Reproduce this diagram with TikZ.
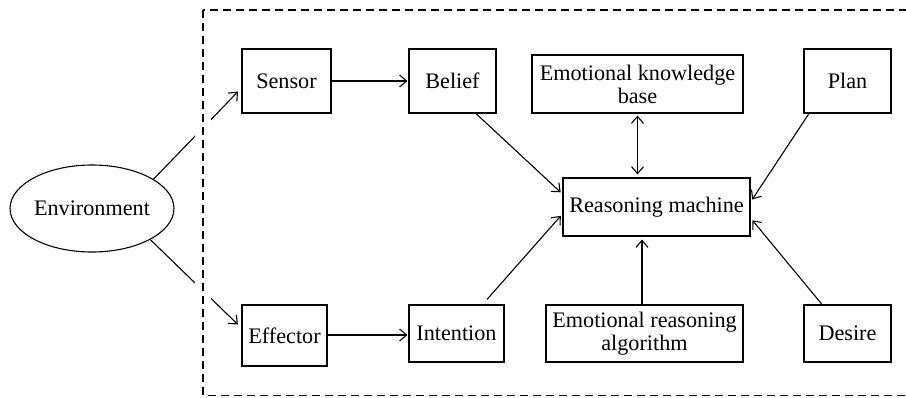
\documentclass[tikz,border=0pt]{standalone}
\usepackage{fontspec}
\setmainfont{Liberation Serif}
\usetikzlibrary{arrows.meta,shapes.geometric}
\tikzset{
  every node/.style={font=\fontsize{22.2}{23}\selectfont},
  box/.style={draw, line width=1.1pt, rectangle, inner sep=0pt, align=center},
  conn/.style={line width=1.1pt, -{Straight Barb[length=7pt,width=12pt]}, shorten >=2pt},
  frame/.style={line width=1.1pt, dash pattern=on 8pt off 5pt},
}
\begin{document}
\begin{tikzpicture}[x=1pt,y=-1pt]
\useasboundingbox (0,0) rectangle (906,397);
\clip (0,0) rectangle (906,397);
\node[draw, line width=1.1pt, ellipse, minimum width=160pt, minimum height=87pt, inner sep=0pt] (env) at (92,208.5) {Environment};
\node[box, minimum width=89pt, minimum height=64pt] (sensor) at (286.5,81) {Sensor};
\node[box, minimum width=87pt, minimum height=64pt] (belief) at (452.5,81) {Belief};
\node[box, minimum width=211pt, minimum height=58pt] (ekb) at (637.5,84) {Emotional knowledge\\base};
\node[box, minimum width=87pt, minimum height=64pt] (plan) at (847.5,81) {Plan};
\node[box, minimum width=187pt, minimum height=58pt] (rm) at (656.5,207) {Reasoning machine};
\node[box, minimum width=85pt, minimum height=61pt] (effector) at (284.5,335.5) {Effector};
\node[box, minimum width=95pt, minimum height=57pt] (intention) at (456.5,333.5) {Intention};
\node[box, minimum width=197pt, minimum height=57pt] (era) at (644.5,333.5) {Emotional reasoning\\algorithm};
\node[box, minimum width=87pt, minimum height=57pt] (desire) at (847.5,333.5) {Desire};

\draw[conn, shorten >=5pt] ([shift={(3pt,-2pt)}]env.north east) -- ([yshift=-7pt]sensor.west);
\draw[conn, shorten >=5pt] (env.south east) -- ([yshift=7.5pt]effector.west);
\draw[conn, shorten >=1pt] (sensor.east) -- (belief.west);
\draw[conn, shorten >=1pt] ([yshift=0.5pt]effector.east) -- ([yshift=0.5pt]effector.east -| intention.west);
\draw[conn, shorten >=2.5pt] ([xshift=23.5pt]belief.south) -- ([yshift=13pt]rm.west);
\draw[line width=1.1pt, {Straight Barb[length=7pt,width=12pt]}-{Straight Barb[length=7pt,width=12pt]}, shorten <=2pt, shorten >=3pt] (ekb.south) -- (ekb.south |- rm.north);
\draw[conn, shorten >=3pt] ([xshift=-38.5pt]plan.south) -- ([yshift=5pt]rm.east);
\draw[conn, shorten >=2.5pt] ([xshift=30.5pt,yshift=5pt]intention.north) -- ([yshift=-7pt]rm.west);
\draw[conn, shorten >=3pt] ([xshift=-2.5pt]era.north) -- ([xshift=-2.5pt]era.north |- rm.south);
\draw[conn, shorten >=3pt] ([xshift=-25.5pt]desire.north) -- ([yshift=-11pt]rm.east);

\draw[frame, preaction={draw=white, solid, line width=16pt}] (203,10) rectangle (930,395.5);
\end{tikzpicture}
\end{document}
